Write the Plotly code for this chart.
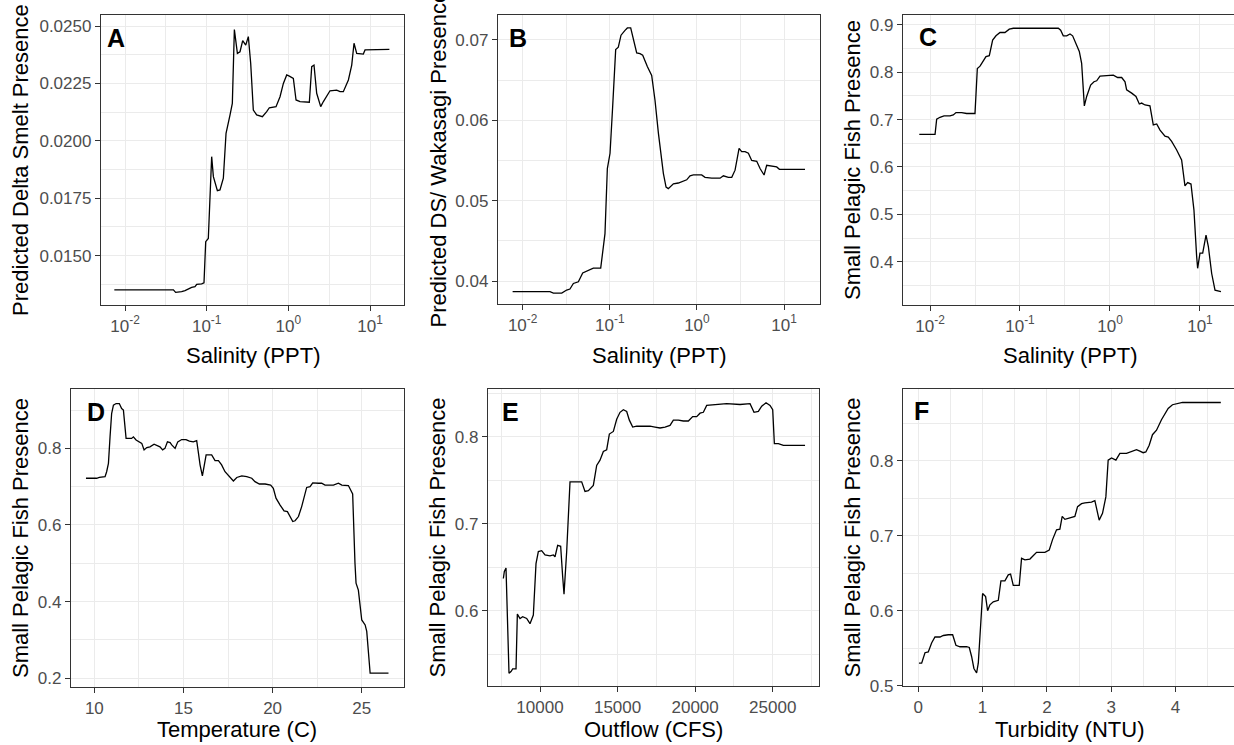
import plotly.graph_objects as go

W, H = 1234, 745

# ---------------- data ----------------
a_salinity = [0.0074, 0.0391, 0.0417, 0.0494, 0.0543, 0.0597, 0.0655, 0.0719, 0.0755, 0.0869,
              0.0927, 0.0973, 0.1047, 0.1151, 0.1208, 0.1352, 0.1455, 0.1600, 0.1726, 0.1932,
              0.2061, 0.2183, 0.2377, 0.2559, 0.2761, 0.3006, 0.3236, 0.3459, 0.3724, 0.4093,
              0.4808, 0.5433, 0.5848, 0.7063, 0.7907, 0.8690, 0.9550, 1.028, 1.151, 1.242,
              1.390, 1.807, 1.932, 2.061, 2.223, 2.489, 2.685, 3.236, 3.908, 4.295,
              4.710, 5.433, 5.970, 6.368, 6.871, 8.279, 8.690, 17.26]
a_presence = [0.01351, 0.01351, 0.01340, 0.01343, 0.01348, 0.01356, 0.01362, 0.01365, 0.01375, 0.01377,
              0.01382, 0.01561, 0.01575, 0.01931, 0.01844, 0.01783, 0.01786, 0.01837, 0.02033, 0.02113,
              0.02163, 0.02485, 0.02381, 0.02388, 0.02436, 0.02417, 0.02454, 0.02337, 0.02134, 0.02113,
              0.02105, 0.02127, 0.02144, 0.02149, 0.02192, 0.02250, 0.02287, 0.02282, 0.02272, 0.02178,
              0.02171, 0.02168, 0.02323, 0.02330, 0.02207, 0.02149, 0.02171, 0.02218, 0.02221, 0.02214,
              0.02214, 0.02265, 0.02330, 0.02425, 0.02381, 0.02378, 0.02396, 0.02398]

b_salinity = [0.00767, 0.0206, 0.0225, 0.0281, 0.0320, 0.0349, 0.0382, 0.0417, 0.0436, 0.0489,
              0.0543, 0.0619, 0.0647, 0.0787, 0.0843, 0.0881, 0.0938, 0.1007, 0.1079, 0.1169,
              0.1253, 0.1346, 0.1496, 0.1592, 0.1738, 0.1866, 0.2037, 0.2223, 0.2388, 0.2698,
              0.3027, 0.3304, 0.3614, 0.4121, 0.4426, 0.4699, 0.5370, 0.6124, 0.6998, 0.7638,
              0.8337, 0.9120, 1.135, 1.239, 1.479, 1.845, 2.014, 2.296, 2.512, 2.742,
              3.048, 3.266, 3.573, 3.899, 4.256, 4.864, 5.309, 5.902, 6.324, 7.228,
              8.241, 8.851, 17.42]
b_presence = [0.03867, 0.03867, 0.0385, 0.0385, 0.03888, 0.0390, 0.0397, 0.0398, 0.0399, 0.0410,
              0.0412, 0.0415, 0.0416, 0.0416, 0.0443, 0.0459, 0.0540, 0.0559, 0.0617, 0.0688,
              0.0691, 0.0706, 0.0712, 0.0715, 0.0715, 0.0702, 0.0684, 0.0683, 0.0681, 0.0667,
              0.0656, 0.0625, 0.0584, 0.0534, 0.0517, 0.0515, 0.0521, 0.0522, 0.0524, 0.0526,
              0.0531, 0.0532, 0.0532, 0.0529, 0.0528, 0.0528, 0.0531, 0.0529, 0.0529, 0.0538,
              0.0565, 0.0561, 0.0561, 0.0559, 0.0550, 0.0549, 0.0540, 0.0532, 0.0544, 0.0543,
              0.0542, 0.0539, 0.0539]

c_salinity = [0.00760, 0.01138, 0.01186, 0.01291, 0.01432, 0.01667, 0.01815, 0.01945, 0.02249, 0.02553,
              0.03162, 0.03357, 0.03597, 0.03917, 0.04188, 0.04560, 0.04966, 0.05408, 0.05998, 0.06808,
              0.07603, 0.08433, 0.2667, 0.2831, 0.3027, 0.3304, 0.3597, 0.3846, 0.4188, 0.4560,
              0.4842, 0.5058, 0.5188, 0.5508, 0.6095, 0.6637, 0.7112, 0.7745, 0.8790, 1.089,
              1.216, 1.349, 1.469, 1.531, 1.742, 1.945, 2.118, 2.249, 2.449, 2.780,
              3.027, 3.304, 3.597, 4.083, 4.446, 4.842, 5.508, 6.252, 6.808, 7.295,
              7.943, 8.570, 9.183, 9.419, 10.0, 10.72, 11.67, 12.39, 13.49, 14.69, 17.10]
c_presence = [0.669, 0.669, 0.701, 0.705, 0.708, 0.708, 0.710, 0.715, 0.715, 0.713,
              0.713, 0.808, 0.813, 0.826, 0.833, 0.835, 0.868, 0.877, 0.884, 0.884,
              0.891, 0.893, 0.893, 0.889, 0.877, 0.877, 0.881, 0.877, 0.861, 0.844,
              0.819, 0.770, 0.729, 0.749, 0.773, 0.780, 0.782, 0.792, 0.793, 0.794,
              0.789, 0.789, 0.780, 0.763, 0.756, 0.749, 0.733, 0.735, 0.731, 0.729,
              0.689, 0.691, 0.678, 0.665, 0.663, 0.654, 0.636, 0.615, 0.560, 0.567,
              0.564, 0.509, 0.411, 0.386, 0.418, 0.418, 0.456, 0.432, 0.375, 0.340, 0.337]

d_temperature = [9.53, 10.13, 10.28, 10.60, 10.69, 10.79, 10.88, 10.97, 11.07, 11.22,
                 11.40, 11.53, 11.63, 11.78, 12.09, 12.19, 12.34, 12.52, 12.66, 12.79,
                 12.94, 13.12, 13.35, 13.59, 13.68, 13.83, 13.96, 14.10, 14.25, 14.34,
                 14.53, 14.68, 14.90, 15.14, 15.33, 15.55, 15.74, 15.83, 15.93, 16.06,
                 16.15, 16.27, 16.58, 16.77, 16.96, 17.14, 17.33, 17.61, 17.80, 17.99,
                 18.27, 18.55, 18.83, 19.01, 19.26, 19.58, 19.89, 20.04, 20.19, 20.42,
                 20.64, 20.83, 20.98, 21.13, 21.26, 21.45, 21.63, 21.82, 21.91, 22.10,
                 22.25, 22.57, 22.75, 22.94, 23.41, 23.69, 23.88, 24.25, 24.38, 24.49,
                 24.62, 24.68, 24.81, 25.00, 25.19, 25.28, 25.47, 26.50]
d_presence = [0.722, 0.722, 0.724, 0.726, 0.739, 0.761, 0.830, 0.891, 0.913, 0.917,
              0.917, 0.904, 0.900, 0.826, 0.826, 0.830, 0.822, 0.817, 0.813, 0.796,
              0.802, 0.804, 0.811, 0.806, 0.804, 0.796, 0.800, 0.817, 0.815, 0.809,
              0.800, 0.817, 0.823, 0.823, 0.819, 0.817, 0.820, 0.791, 0.757, 0.728,
              0.752, 0.783, 0.783, 0.768, 0.768, 0.757, 0.739, 0.724, 0.715, 0.724,
              0.728, 0.726, 0.722, 0.713, 0.707, 0.707, 0.704, 0.696, 0.670, 0.652,
              0.637, 0.635, 0.623, 0.609, 0.611, 0.622, 0.648, 0.684, 0.698, 0.700,
              0.710, 0.709, 0.709, 0.704, 0.704, 0.709, 0.704, 0.703, 0.691, 0.681,
              0.500, 0.448, 0.430, 0.352, 0.339, 0.322, 0.213, 0.213]

e_outflow = [7636, 7701, 7808, 7916, 8001, 8130, 8238, 8453, 8539, 8711,
             8882, 9140, 9355, 9570, 9742, 9893, 10107, 10322, 10645, 10860,
             10967, 11139, 11332, 11461, 11547, 11719, 11827, 11934, 12149, 12686,
             12901, 13116, 13438, 13653, 13868, 14083, 14298, 14470, 14728, 14943,
             15158, 15373, 15588, 15760, 15975, 16232, 16662, 17092, 17414, 17736,
             18059, 18381, 18596, 18918, 19241, 19563, 19842, 20100, 20315, 20530,
             20745, 21390, 22034, 22894, 23539, 23797, 24076, 24291, 24570, 24828,
             25000, 25107, 25365, 25688, 27085]
e_presence = [0.637, 0.645, 0.649, 0.589, 0.528, 0.530, 0.533, 0.533, 0.596, 0.591,
              0.593, 0.591, 0.585, 0.595, 0.654, 0.668, 0.669, 0.664, 0.663, 0.664,
              0.662, 0.675, 0.674, 0.639, 0.619, 0.668, 0.704, 0.748, 0.748, 0.748,
              0.737, 0.738, 0.744, 0.767, 0.773, 0.783, 0.785, 0.803, 0.806, 0.820,
              0.828, 0.831, 0.829, 0.819, 0.811, 0.812, 0.812, 0.812, 0.811, 0.810,
              0.811, 0.813, 0.819, 0.819, 0.818, 0.818, 0.823, 0.823, 0.827, 0.828,
              0.836, 0.837, 0.838, 0.837, 0.838, 0.828, 0.829, 0.835, 0.839, 0.836,
              0.831, 0.792, 0.792, 0.790, 0.790]

f_turbidity = [0.010, 0.052, 0.104, 0.155, 0.207, 0.259, 0.337, 0.389, 0.466, 0.534,
               0.585, 0.648, 0.751, 0.793, 0.829, 0.865, 0.907, 0.933, 1.000, 1.047,
               1.078, 1.114, 1.166, 1.244, 1.285, 1.347, 1.399, 1.435, 1.477, 1.570,
               1.606, 1.658, 1.736, 1.839, 1.969, 2.036, 2.088, 2.150, 2.202, 2.238,
               2.280, 2.358, 2.435, 2.477, 2.539, 2.591, 2.694, 2.746, 2.813, 2.865,
               2.917, 2.953, 3.005, 3.073, 3.135, 3.238, 3.316, 3.394, 3.446, 3.497,
               3.539, 3.591, 3.642, 3.705, 3.782, 3.886, 3.953, 4.041, 4.109, 4.705]
f_presence = [0.530, 0.530, 0.544, 0.545, 0.557, 0.565, 0.565, 0.567, 0.568, 0.568,
              0.554, 0.552, 0.552, 0.551, 0.539, 0.523, 0.517, 0.530, 0.623, 0.619,
              0.600, 0.608, 0.612, 0.614, 0.640, 0.640, 0.648, 0.649, 0.634, 0.634,
              0.670, 0.668, 0.669, 0.678, 0.678, 0.681, 0.695, 0.708, 0.709, 0.726,
              0.722, 0.724, 0.726, 0.739, 0.743, 0.744, 0.745, 0.747, 0.721, 0.730,
              0.752, 0.801, 0.804, 0.801, 0.810, 0.810, 0.813, 0.815, 0.813, 0.811,
              0.812, 0.821, 0.835, 0.841, 0.855, 0.870, 0.875, 0.877, 0.878, 0.878]

# tick labels
log_tickvals = [0.01, 0.1, 1, 10]
log_ticktext = ["10<sup>-2</sup>", "10<sup>-1</sup>", "10<sup>0</sup>", "10<sup>1</sup>"]
log_minorvals = [10 ** -2.5, 10 ** -1.5, 10 ** -0.5, 10 ** 0.5, 10 ** 1.5]
a_yticks = [0.0150, 0.0175, 0.0200, 0.0225, 0.0250]
a_ytext = ["0.0150", "0.0175", "0.0200", "0.0225", "0.0250"]
b_yticks = [0.04, 0.05, 0.06, 0.07]
b_ytext = ["0.04", "0.05", "0.06", "0.07"]
c_yticks = [0.4, 0.5, 0.6, 0.7, 0.8, 0.9]
c_ytext = ["0.4", "0.5", "0.6", "0.7", "0.8", "0.9"]
d_xticks = [10, 15, 20, 25]
d_yticks = [0.2, 0.4, 0.6, 0.8]
d_ytext = ["0.2", "0.4", "0.6", "0.8"]
e_xticks = [10000, 15000, 20000, 25000]
e_yticks = [0.6, 0.7, 0.8]
e_ytext = ["0.6", "0.7", "0.8"]
f_xticks = [0, 1, 2, 3, 4]
f_yticks = [0.5, 0.6, 0.7, 0.8]
f_ytext = ["0.5", "0.6", "0.7", "0.8"]

# ---------------- styling ----------------
FONT = "Arial, 'Liberation Sans', sans-serif"
BORDER = "#333333"
GRID = "#EBEBEB"
TICKFONT = dict(family=FONT, size=17, color="#4D4D4D")
TITLEFONT = dict(family=FONT, size=22, color="black")


def px_x(p):
    return p / W


def px_y(p):
    return 1 - p / H


def base_axis(mirror=True):
    return dict(showline=True, linecolor=BORDER, linewidth=1.3, mirror=mirror,
                ticks="outside", ticklen=5, tickwidth=1.1, tickcolor=BORDER,
                showgrid=True, gridcolor=GRID, gridwidth=1.3, zeroline=False,
                tickfont=TICKFONT, automargin=False, layer="below traces")


panels = [
    dict(x=a_salinity, y=a_presence, box=(101, 404, 15, 305), xlog=True,
         xrange=[-2.294, 1.416], yrange=[0.01285, 0.02548],
         yt=a_yticks, ytt=a_ytext, ydt=0.00125, y0=0.0150, rmirror=True,
         letter="A", lpos=(115.5, 38.5), ytitle="Predicted Delta Smelt Presence",
         ytx=20, xtitle="Salinity (PPT)", xty=355),
    dict(x=b_salinity, y=b_presence, box=(498, 820, 15, 304), xlog=True,
         xrange=[-2.283, 1.413], yrange=[0.03714, 0.07311],
         yt=b_yticks, ytt=b_ytext, ydt=0.005, y0=0.04, rmirror=True,
         letter="B", lpos=(517.5, 38), ytitle="Predicted DS/ Wakasagi Presence",
         ytx=438, xtitle="Salinity (PPT)", xty=355),
    dict(x=c_salinity, y=c_presence, box=(903, 1234, 15, 305), xlog=True,
         xrange=[-2.300, 1.378], yrange=[0.3085, 0.921],
         yt=c_yticks, ytt=c_ytext, ydt=0.05, y0=0.4, rmirror=False,
         letter="C", lpos=(928, 37.5), ytitle="Small Pelagic Fish Presence",
         ytx=852, xtitle="Salinity (PPT)", xty=355, xtcx=1070),
    dict(x=d_temperature, y=d_presence, box=(71, 404, 389, 687), xlog=False,
         xrange=[8.69, 27.37], yrange=[0.177, 0.955], xt=d_xticks, xdt=2.5, x0=10,
         yt=d_yticks, ytt=d_ytext, ydt=0.1, y0=0.2, rmirror=True,
         letter="D", lpos=(96, 412), ytitle="Small Pelagic Fish Presence",
         ytx=20, xtitle="Temperature (C)", xty=729),
    dict(x=e_outflow, y=e_presence, box=(488, 819, 389, 686), xlog=False,
         xrange=[6647, 27985], yrange=[0.5134, 0.8548], xt=e_xticks, xdt=2500, x0=10000,
         yt=e_yticks, ytt=e_ytext, ydt=0.05, y0=0.6, rmirror=True,
         letter="E", lpos=(510, 412), ytitle="Small Pelagic Fish Presence",
         ytx=437, xtitle="Outflow (CFS)", xty=729),
    dict(x=f_turbidity, y=f_presence, box=(903, 1234, 389, 686), xlog=False,
         xrange=[-0.238, 4.91], yrange=[0.4996, 0.896], xt=f_xticks, xdt=0.5, x0=0,
         yt=f_yticks, ytt=f_ytext, ydt=0.05, y0=0.5, rmirror=False,
         letter="F", lpos=(921, 411), ytitle="Small Pelagic Fish Presence",
         ytx=852, xtitle="Turbidity (NTU)", xty=729, xtcx=1070),
]

fig = go.Figure()
layout = dict(width=W, height=H, autosize=False,
              margin=dict(l=0, r=0, t=0, b=0),
              paper_bgcolor="white", plot_bgcolor="white",
              showlegend=False, font=dict(family=FONT))
annotations = []

for i, p in enumerate(panels, start=1):
    suffix = "" if i == 1 else str(i)
    xa_name, ya_name = "xaxis" + suffix, "yaxis" + suffix
    x0p, x1p, y0p, y1p = p["box"]
    fig.add_trace(go.Scatter(x=p["x"], y=p["y"], mode="lines",
                             line=dict(color="black", width=1.3),
                             xaxis="x" + suffix, yaxis="y" + suffix,
                             hoverinfo="skip"))
    xa = base_axis(mirror=True)
    xa.update(domain=[px_x(x0p), px_x(x1p)], anchor="y" + suffix, range=p["xrange"])
    if p["xlog"]:
        xa.update(type="log", tickmode="array", tickvals=log_tickvals, ticktext=log_ticktext,
                  minor=dict(tickvals=log_minorvals, showgrid=True, gridcolor=GRID,
                             gridwidth=0.7, ticks=""))
    else:
        xa.update(type="linear", tickmode="array", tickvals=p["xt"], tickformat="d",
                  minor=dict(tickmode="linear", tick0=p["x0"], dtick=p["xdt"], showgrid=True,
                             gridcolor=GRID, gridwidth=0.7, ticks=""))
    ya = base_axis(mirror=p["rmirror"])
    ya.update(domain=[px_y(y1p), px_y(y0p)], anchor="x" + suffix, range=p["yrange"],
              tickmode="array", tickvals=p["yt"], ticktext=p["ytt"],
              minor=dict(tickmode="linear", tick0=p["y0"], dtick=p["ydt"], showgrid=True,
                         gridcolor=GRID, gridwidth=0.7, ticks=""))
    layout[xa_name] = xa
    layout[ya_name] = ya

    # panel letter
    annotations.append(dict(text="<b>%s</b>" % p["letter"], xref="paper", yref="paper",
                            x=px_x(p["lpos"][0]), y=px_y(p["lpos"][1]),
                            xanchor="center", yanchor="middle", showarrow=False,
                            font=dict(family=FONT, size=25, color="black")))
    # y title
    annotations.append(dict(text=p["ytitle"], xref="paper", yref="paper",
                            x=px_x(p["ytx"]), y=px_y((y0p + y1p) / 2),
                            xanchor="center", yanchor="middle", textangle=-90,
                            showarrow=False, font=TITLEFONT))
    # x title
    xc = p.get("xtcx", (x0p + x1p) / 2)
    annotations.append(dict(text=p["xtitle"], xref="paper", yref="paper",
                            x=px_x(xc), y=px_y(p["xty"]),
                            xanchor="center", yanchor="middle",
                            showarrow=False, font=TITLEFONT))

layout["annotations"] = annotations
fig.update_layout(**layout)

page_js = ("document.documentElement.style.margin='0';"
           "document.documentElement.style.overflow='hidden';"
           "document.body.style.margin='0';"
           "document.body.style.padding='0';"
           "document.body.style.overflow='hidden';")
fig.write_html("out.html", post_script=page_js, config={"displayModeBar": False})
